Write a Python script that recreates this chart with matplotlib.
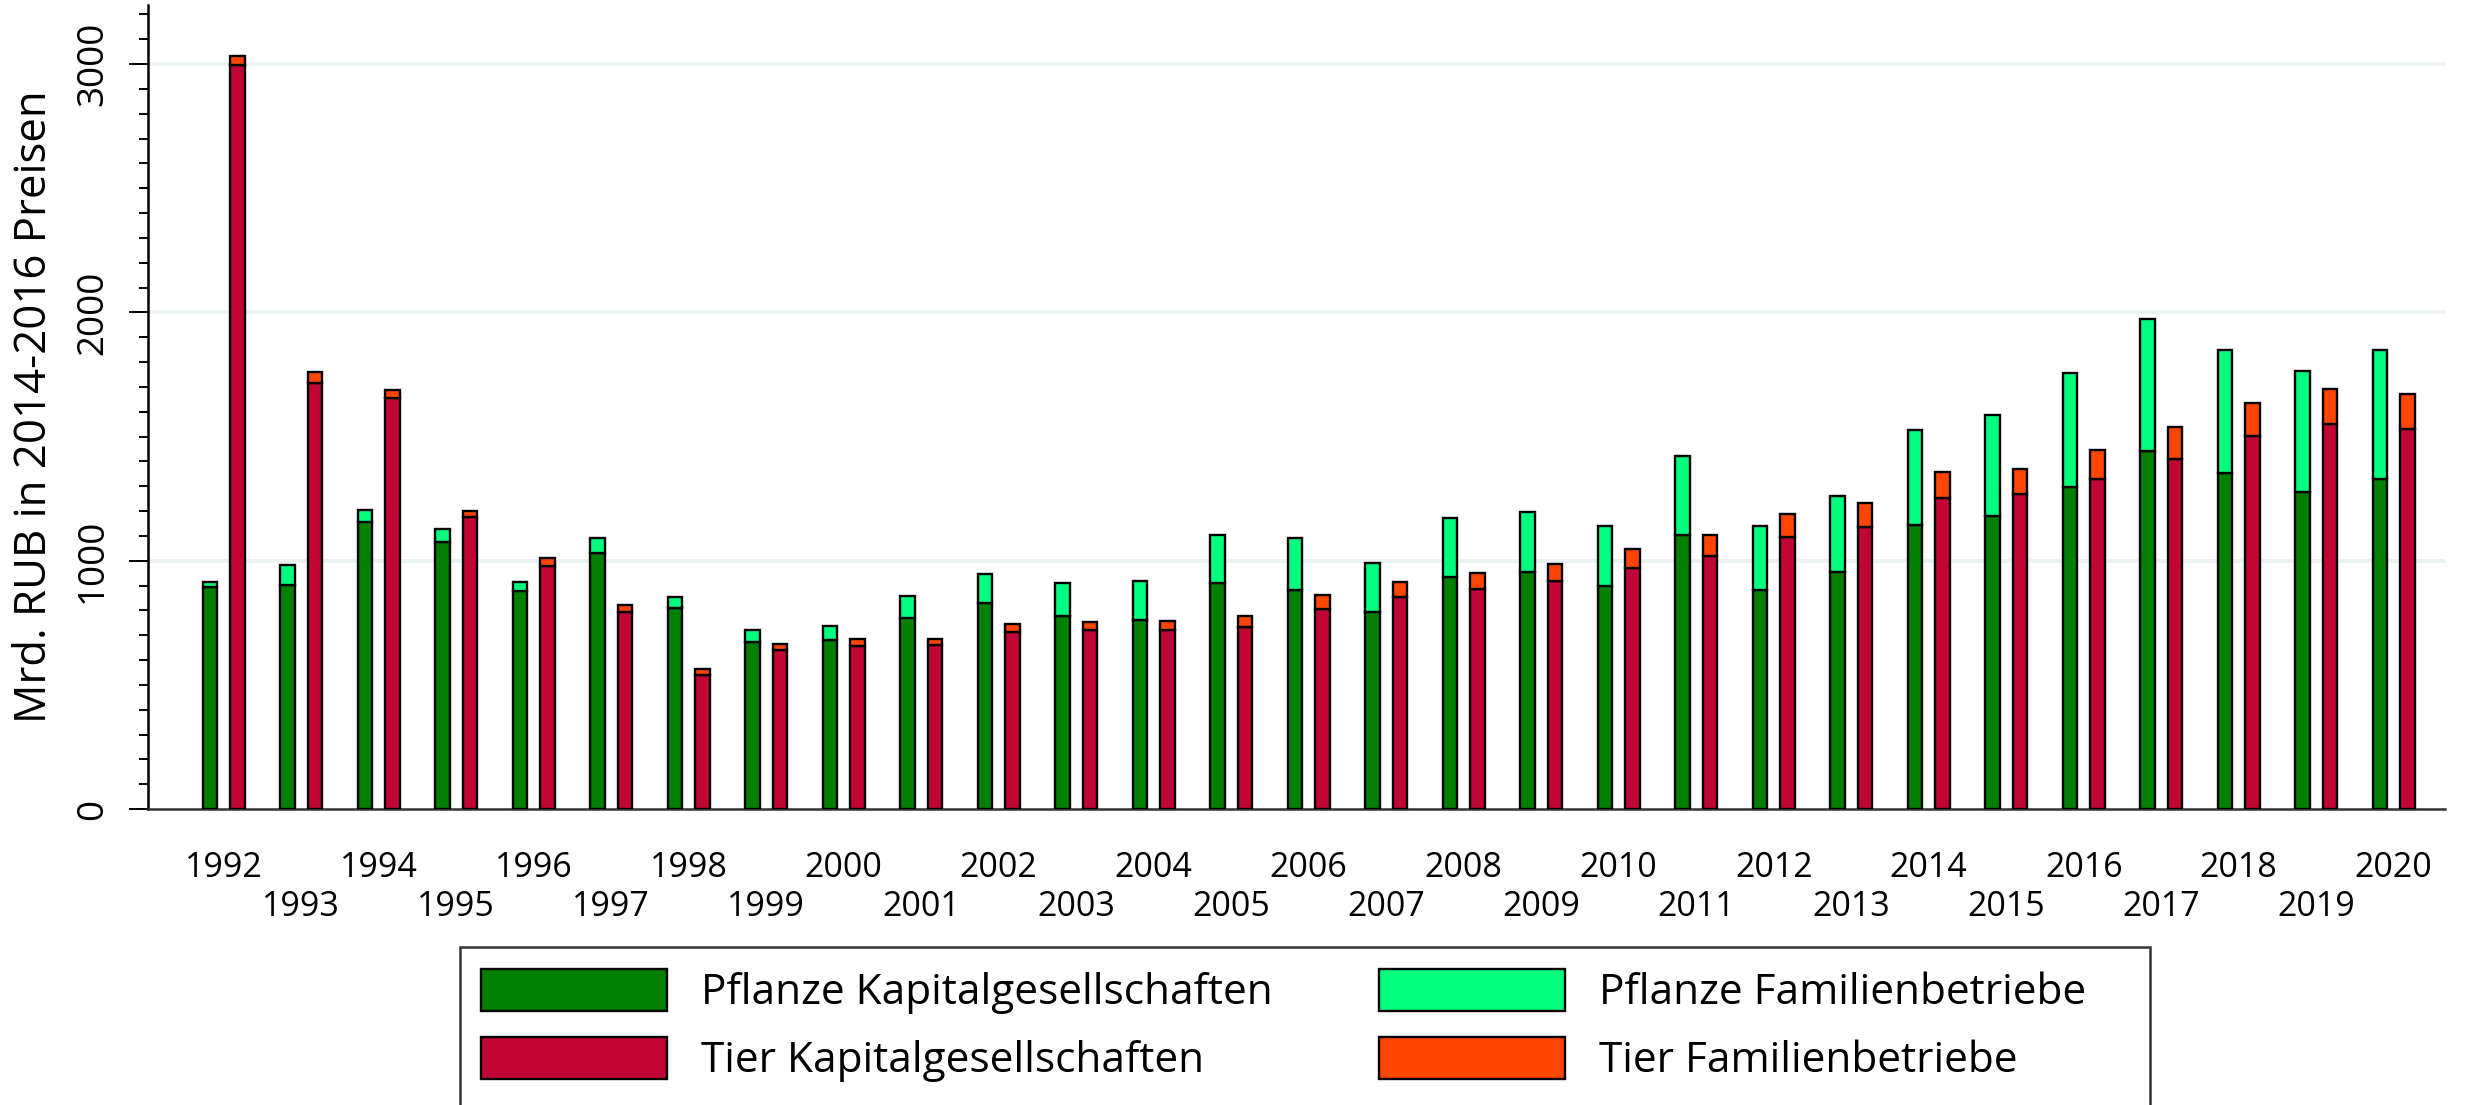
import numpy as np
import matplotlib
matplotlib.use('Agg')
import matplotlib.pyplot as plt
from matplotlib.patches import Rectangle

plt.rcParams['font.family'] = ['Open Sans', 'DejaVu Sans']

years = np.arange(1992, 2021)
plant_kg = [895, 902, 1157, 1074, 878, 1031, 808, 672, 680, 768, 830, 779, 762, 909, 881,
            794, 935, 953, 897, 1102, 883, 954, 1145, 1180, 1295, 1442, 1354, 1275, 1329]
plant_fam = [20, 80, 48, 53, 37, 59, 44, 49, 57, 91, 116, 130, 156, 196, 210,
             198, 238, 244, 243, 321, 255, 306, 381, 405, 459, 530, 495, 490, 520]
animal_kg = [2998, 1715, 1657, 1175, 978, 795, 541, 642, 656, 660, 713, 720, 720, 734, 805,
             853, 887, 918, 972, 1018, 1095, 1134, 1252, 1269, 1329, 1411, 1503, 1549, 1529]
animal_fam = [35, 45, 31, 26, 31, 28, 22, 22, 27, 26, 32, 35, 37, 43, 56,
              61, 62, 68, 76, 85, 93, 97, 105, 99, 116, 126, 131, 143, 143]

labels = ['Pflanze Kapitalgesellschaften', 'Pflanze Familienbetriebe',
          'Tier Kapitalgesellschaften', 'Tier Familienbetriebe']
colors = ['#008000', '#00FF7F', '#C10534', '#FF4500']

W, H = 2466, 1105
right_px = 2445
fig = plt.figure(figsize=(W / 100, H / 100), dpi=100)
ax = fig.add_axes([148 / W, 1 - 809 / H, (right_px - 148) / W, (809 - 5) / H])

off, bw, lw = 0.177, 0.19, 1.7
b_pk = ax.bar(years - off, plant_kg, bw, color=colors[0], edgecolor='black', linewidth=lw, zorder=3)
b_pf = ax.bar(years - off, plant_fam, bw, bottom=plant_kg, color=colors[1], edgecolor='black', linewidth=lw, zorder=3)
b_tk = ax.bar(years + off, animal_kg, bw, color=colors[2], edgecolor='black', linewidth=lw, zorder=3)
b_tf = ax.bar(years + off, animal_fam, bw, bottom=animal_kg, color=colors[3], edgecolor='black', linewidth=lw, zorder=3)

ax.set_xlim(1991.023, 1992 + (right_px - 223.75) / 77.5)
ax.set_ylim(0, 3238)

# grid only at 1000, 2000, 3000
for v in [1000, 2000, 3000]:
    ax.axhline(v, color='#EAF2F3', linewidth=2.8, zorder=1)

for s in ['top', 'right']:
    ax.spines[s].set_visible(False)
ax.spines['left'].set_linewidth(1.8)
ax.spines['bottom'].set_linewidth(1.8)
ax.spines['bottom'].set_color('#333333')

ax.set_yticks([0, 1000, 2000, 3000])
ax.set_yticks(np.arange(0, 3238, 100), minor=True)
ax.tick_params(axis='y', which='major', length=13.7, width=1.4, pad=13, labelsize=26.5, labelrotation=90)
ax.tick_params(axis='y', which='minor', length=6.5, width=1.4)
for t in ax.get_yticklabels():
    t.set_va('center')

# even years on the first row, odd years on the second row
ax.set_xticks(years[::2])
ax.set_xticklabels([str(y) for y in years[::2]])
ax.set_xticks(years[1::2], minor=True)
ax.set_xticklabels([str(y) for y in years[1::2]], minor=True)
ax.tick_params(axis='x', which='major', length=0, pad=30, labelsize=24.5)
ax.tick_params(axis='x', which='minor', length=0, pad=58, labelsize=24.5)

ax.set_ylabel('Mrd. RUB in 2014-2016 Preisen', fontsize=31.5)
ax.yaxis.set_label_coords((57 - 148) / (right_px - 148), 0.5)

leg = fig.legend([b_pk, b_tk, b_pf, b_tf], [labels[0], labels[2], labels[1], labels[3]],
                 ncol=2, loc='upper left', bbox_to_anchor=(481 / W, 1 - 969 / H),
                 frameon=False, fontsize=30.5, borderpad=0, borderaxespad=0,
                 handlelength=4.4, handleheight=1.15, handletextpad=0.8,
                 columnspacing=2.5, labelspacing=0.53)
fig.add_artist(Rectangle((460 / W, -0.05), (2150 - 460) / W, (1105 - 947) / H + 0.05,
                         transform=fig.transFigure, fill=False, edgecolor='#333333',
                         linewidth=1.8, clip_on=False))

fig.savefig('out.png', dpi=100)
